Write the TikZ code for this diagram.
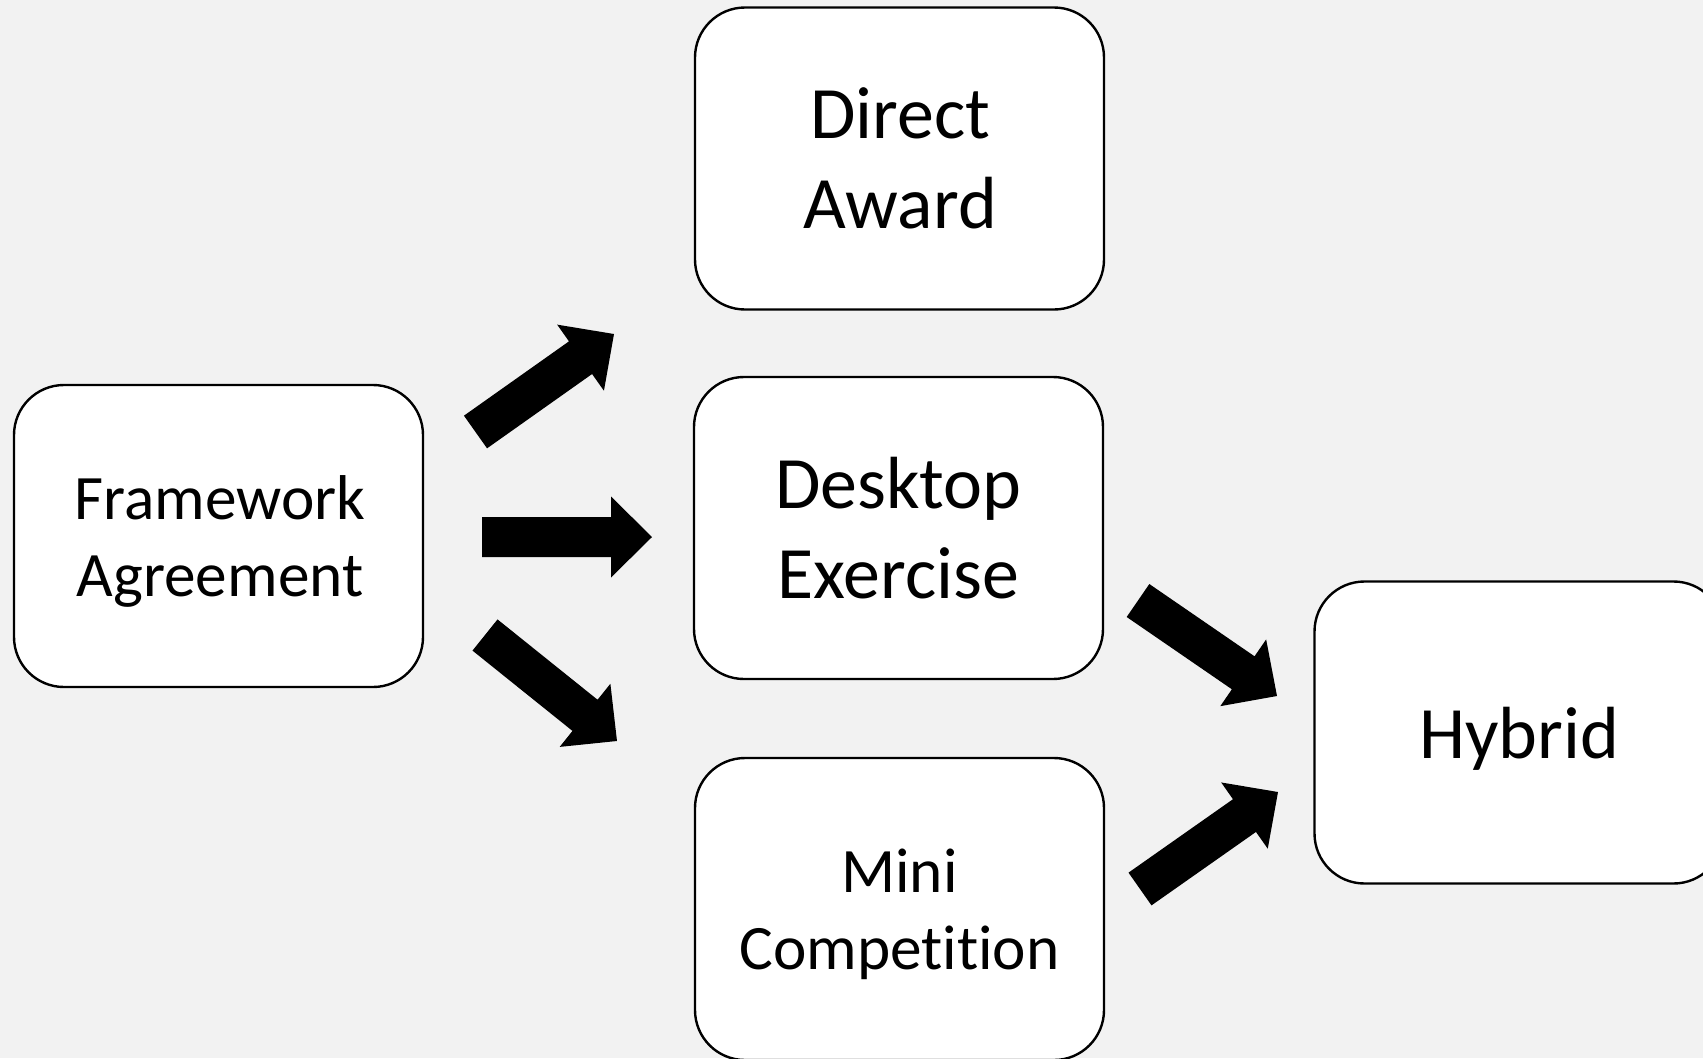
\documentclass[tikz,border=0pt]{standalone}
\usepackage{fontspec}
\setmainfont{Carlito}[Ligatures=CommonOff]
\usetikzlibrary{calc}
\definecolor{bgcol}{HTML}{F2F2F2}
\tikzset{
  box/.style={draw=black, line width=2.4pt, fill=white, rounded corners=50pt,
    minimum width=409pt, minimum height=302pt, inner sep=0pt},
  bigtxt/.style={align=center, anchor=base, inner sep=0pt,
    font=\fontsize{73.9pt}{90pt}\selectfont},
  smalltxt/.style={align=center, anchor=base, inner sep=0pt,
    font=\fontsize{63.3pt}{77pt}\selectfont},
  arrowfill/.style={fill=black},
}
\newcommand\blockarrow[2]{%
  \pgfpointdiff{\pgfpointanchor{#1}{center}}{\pgfpointanchor{#2}{center}}%
  \pgfgetlastxy{\baX}{\baY}%
  \pgfmathsetmacro\baAng{atan2(\baY,\baX)}%
  \pgfmathsetmacro\baLen{veclen(\baX,\baY)}%
  \pgfmathsetmacro\baNeck{\baLen-41}%
  \fill[arrowfill, shift={(#1)}, rotate=\baAng]
    (0pt,20pt) -- (\baNeck pt,20pt) -- (\baNeck pt,40.5pt) -- (\baLen pt,0pt)
    -- (\baNeck pt,-40.5pt) -- (\baNeck pt,-20pt) -- (0pt,-20pt) -- cycle;
}
\begin{document}
\begin{tikzpicture}[x=1pt,y=-1pt]
  \useasboundingbox (0,0) rectangle (1703,1058);
  \clip (0,0) rectangle (1703,1058);
  \fill[bgcol] (0,0) rectangle (1703,1058);

  % boxes
  \node[box] (fa) at (218.5,536) {};
  \node[box] (da) at (899.5,158.5) {};
  \node[box] (de) at (898.5,528) {};
  \node[box] (mc) at (899.5,909) {};
  \node[box] (hy) at (1519,732.5) {};

  % texts (anchored at the baseline of their last line)
  \node[smalltxt] (fat) at ($(fa.center)+(1.5,60)$) {Framework\\Agreement};
  \node[bigtxt]   (dat) at ($(da.center)+(0.5,69.5)$) {Direct\\Award};
  \node[bigtxt]   (det) at ($(de.center)+(0,70)$) {Desktop\\Exercise};
  \node[smalltxt] (mct) at ($(mc.center)+(0,60)$) {Mini\\Competition};
  \node[bigtxt]   (hyt) at ($(hy.center)+(0,25.5)$) {Hybrid};

  % arrow ends
  \coordinate (a1s) at (475.5,432);  \coordinate (a1e) at (614,334);
  \coordinate (a2s) at (482,537);    \coordinate (a2e) at (652,537);
  \coordinate (a3s) at (485,635);    \coordinate (a3e) at (617,741);
  \coordinate (a4s) at (1138,600.5); \coordinate (a4e) at (1277,696);
  \coordinate (a5s) at (1140,889);   \coordinate (a5e) at (1278,792);

  \blockarrow{a1s}{a1e}
  \blockarrow{a2s}{a2e}
  \blockarrow{a3s}{a3e}
  \blockarrow{a4s}{a4e}
  \blockarrow{a5s}{a5e}
\end{tikzpicture}
\end{document}
